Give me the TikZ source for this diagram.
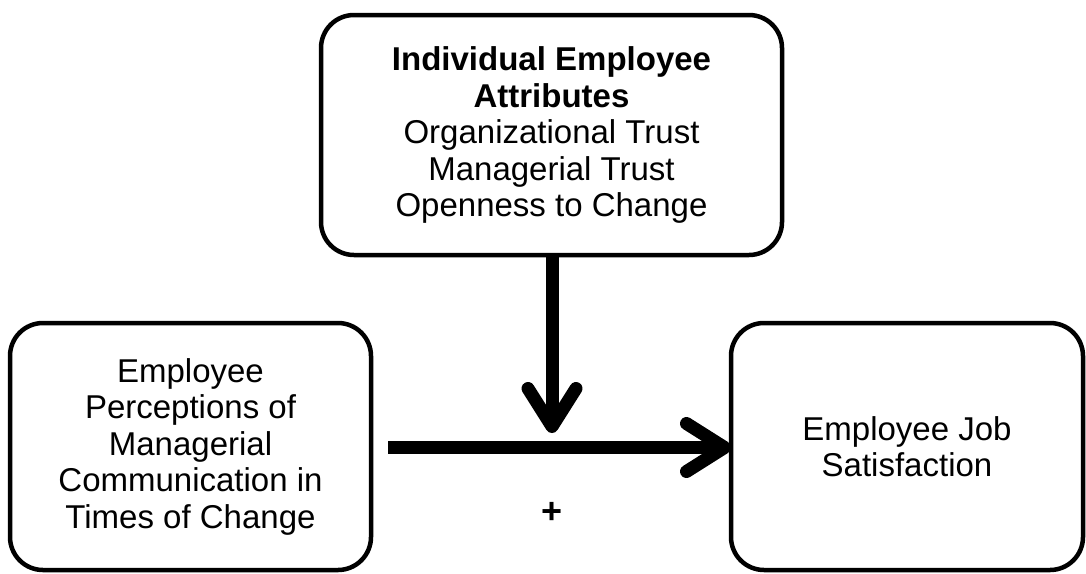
\documentclass[tikz,border=0pt]{standalone}
\usepackage{fontspec}
\setmainfont{Liberation Sans}
\usetikzlibrary{arrows.meta}

\begin{document}
\begin{tikzpicture}[x=1pt,y=-1pt,
  box/.style={draw,line width=4.5pt,rounded corners=33pt,align=center,
    inner sep=0pt,outer sep=0pt,font=\fontsize{33}{36.5}\selectfont},
  link/.style={line width=13pt,-{Straight Barb[round,length=38pt,width=48pt]}}]
  \useasboundingbox (0,0) rectangle (1086,573);
  \node[box,minimum width=461pt,minimum height=240pt] (attr) at (551.5,135)
    {\textbf{Individual Employee}\\ \textbf{Attributes}\\ Organizational Trust\\
     Managerial Trust\\ Openness to Change};
  \node[box,minimum width=361pt,minimum height=247pt] (comm) at (190.5,446.5)
    {Employee\\ Perceptions of\\ Managerial\\ Communication in\\ Times of Change};
  \node[box,minimum width=352pt,minimum height=247pt] (sat) at (907,446.5)
    {Employee Job\\ Satisfaction};
  \coordinate (start) at (388,447.5);
  \coordinate (mid) at (552,433);
  \draw[link] (start) -- (start -| sat.west);
  \draw[link] (attr.south -| mid) -- (mid);
  \node[font=\fontsize{36}{40}\selectfont\bfseries] (sign) at (552,513) {+};
\end{tikzpicture}
\end{document}
